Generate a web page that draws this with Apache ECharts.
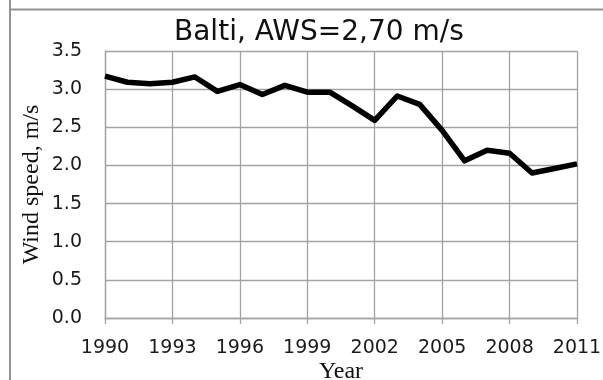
<!DOCTYPE html>
<html>
<head>
<meta charset="utf-8">
<script src="https://cdn.jsdelivr.net/npm/echarts@6/dist/echarts.min.js"></script>
<style>
  html, body { margin: 0; padding: 0; background: #ffffff; }
  #chart { width: 603px; height: 380px; }
</style>
</head>
<body>
<div id="chart"></div>
<script>
// Annual mean wind speed at Balti station, 1990-2011
const years = [1990, 1991, 1992, 1993, 1994, 1995, 1996, 1997, 1998, 1999, 2000,
               2001, 2002, 2003, 2004, 2005, 2006, 2007, 2008, 2009, 2010, 2011];
const windSpeed = [3.17, 3.09, 3.07, 3.09, 3.16, 2.97, 3.06, 2.93, 3.05, 2.96, 2.96,
                   2.78, 2.59, 2.91, 2.80, 2.46, 2.06, 2.20, 2.16, 1.90, 1.96, 2.02];
const titleText = 'Balti, AWS=2,70 m/s';
const xAxisName = 'Year';
const yAxisName = 'Wind speed, m/s';

const gridColor = '#a3a3a3';
const sans = 'DejaVu Sans';
const serif = 'Liberation Serif';

const chart = echarts.init(document.getElementById('chart'), null, { renderer: 'canvas' });

chart.setOption({
  animation: false,
  backgroundColor: '#ffffff',
  title: {
    text: titleText,
    left: 174,
    top: 19,
    padding: 0,
    textStyle: { fontFamily: sans, fontSize: 28, fontWeight: 'normal', color: '#111111' }
  },
  graphic: [
    { type: 'line', shape: { x1: 10, y1: 0, x2: 10, y2: 380 },
      style: { stroke: '#939393', lineWidth: 2 } },
    { type: 'line', shape: { x1: 10, y1: 9.5, x2: 603, y2: 9.5 },
      style: { stroke: '#939393', lineWidth: 2 } }
  ],
  grid: { left: 105, right: 26, top: 51, bottom: 62, containLabel: false, outerBoundsMode: 'none' },
  xAxis: {
    type: 'value',
    min: 1990,
    max: 2011,
    interval: 3,
    name: xAxisName,
    nameLocation: 'middle',
    nameGap: 42,
    nameMoveOverlap: false,
    nameTextStyle: { fontFamily: serif, fontSize: 24, color: '#111111' },
    axisLine: { show: true, lineStyle: { color: gridColor, width: 1.3 } },
    axisTick: { show: true, length: 6, lineStyle: { color: gridColor, width: 1.3 } },
    axisLabel: { margin: 21, fontFamily: sans, fontSize: 19, color: '#1a1a1a',
                 formatter: v => String(v) },
    splitLine: { show: true, lineStyle: { color: gridColor, width: 1.3 } }
  },
  yAxis: {
    type: 'value',
    min: 0,
    max: 3.5,
    interval: 0.5,
    name: yAxisName,
    nameLocation: 'middle',
    nameGap: 61,
    nameMoveOverlap: false,
    nameTextStyle: { fontFamily: serif, fontSize: 24, color: '#111111' },
    axisLine: { show: true, lineStyle: { color: gridColor, width: 1.3 } },
    axisTick: { show: false },
    axisLabel: { margin: 23, fontFamily: sans, fontSize: 19, color: '#1a1a1a',
                 formatter: v => v.toFixed(1) },
    splitLine: { show: true, lineStyle: { color: gridColor, width: 1.3 } }
  },
  series: [{
    type: 'line',
    data: years.map((y, i) => [y, windSpeed[i]]),
    showSymbol: false,
    symbol: 'none',
    smooth: false,
    lineStyle: { color: '#000000', width: 5.5, join: 'round', cap: 'butt' }
  }]
});
</script>
</body>
</html>
